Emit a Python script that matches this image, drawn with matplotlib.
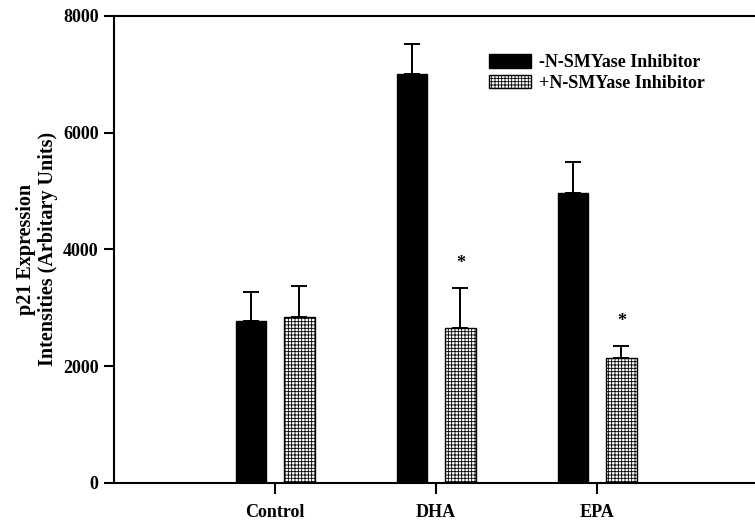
import numpy as np
import matplotlib
matplotlib.use("Agg")
import matplotlib.pyplot as plt

# DATA ########################################################################

groups = ["Control", "DHA", "EPA"]
minus_inhib = [2780, 7000, 4960]
minus_err = [490, 510, 540]
plus_inhib = [2840, 2660, 2140]
plus_err = [530, 680, 210]
stars = ["", "*", "*"]

# PLOT ########################################################################

plt.rcParams['font.family'] = ['Liberation Serif', 'DejaVu Serif']
plt.rcParams['font.weight'] = 'bold'
plt.rcParams['hatch.linewidth'] = 0.6

fig = plt.figure(figsize=(7.55, 5.26), dpi=100)
ax = fig.add_axes([0.151, 0.082, 0.849, 0.888])

x = np.arange(1, len(groups) + 1)
off = 0.15
w = 0.19

ax.bar(x - off, minus_inhib, w, color='black', edgecolor='black',
       label='-N-SMYase Inhibitor', zorder=2)
ax.bar(x + off, plus_inhib, w, color='white', edgecolor='black', linewidth=1.0,
       hatch='+++++', label='+N-SMYase Inhibitor', zorder=2)

ax.errorbar(x - off, minus_inhib, yerr=[np.zeros(3), minus_err], fmt='none',
            ecolor='black', elinewidth=1.4, capsize=5.5, capthick=1.4, zorder=1)
ax.errorbar(x + off, plus_inhib, yerr=[np.zeros(3), plus_err], fmt='none',
            ecolor='black', elinewidth=1.4, capsize=5.5, capthick=1.4, zorder=1)

for xi, v, e, s in zip(x + off, plus_inhib, plus_err, stars):
    if s:
        ax.text(xi, v + e + 420, s, ha='center', va='center', fontsize=13,
                fontweight='bold')

ax.set_xlim(0, 3.98)
ax.set_ylim(0, 8000)
ax.set_yticks([0, 2000, 4000, 6000, 8000])
ax.set_xticks(x)
ax.set_xticklabels(groups)
ax.tick_params(axis='both', direction='out', length=7, width=1.5,
               labelsize=13)
ax.tick_params(axis='x', pad=7, length=8)
ax.tick_params(axis='y', pad=4)
for lab in ax.get_xticklabels() + ax.get_yticklabels():
    lab.set_fontweight('bold')

ax.set_ylabel("p21 Expression\nIntensities (Arbitary Units)", fontsize=14.5,
              fontweight='bold', labelpad=4, linespacing=1.12)

for side in ['left', 'bottom', 'top']:
    ax.spines[side].set_linewidth(1.5)
ax.spines['right'].set_visible(False)

ax.legend(loc='upper left', bbox_to_anchor=(0.585, 0.918), frameon=False,
          handlelength=2.3, handleheight=0.78, handletextpad=0.45,
          labelspacing=0.2, borderpad=0, borderaxespad=0,
          prop={'weight': 'bold', 'size': 13})

plt.savefig("out.png", dpi=100)
